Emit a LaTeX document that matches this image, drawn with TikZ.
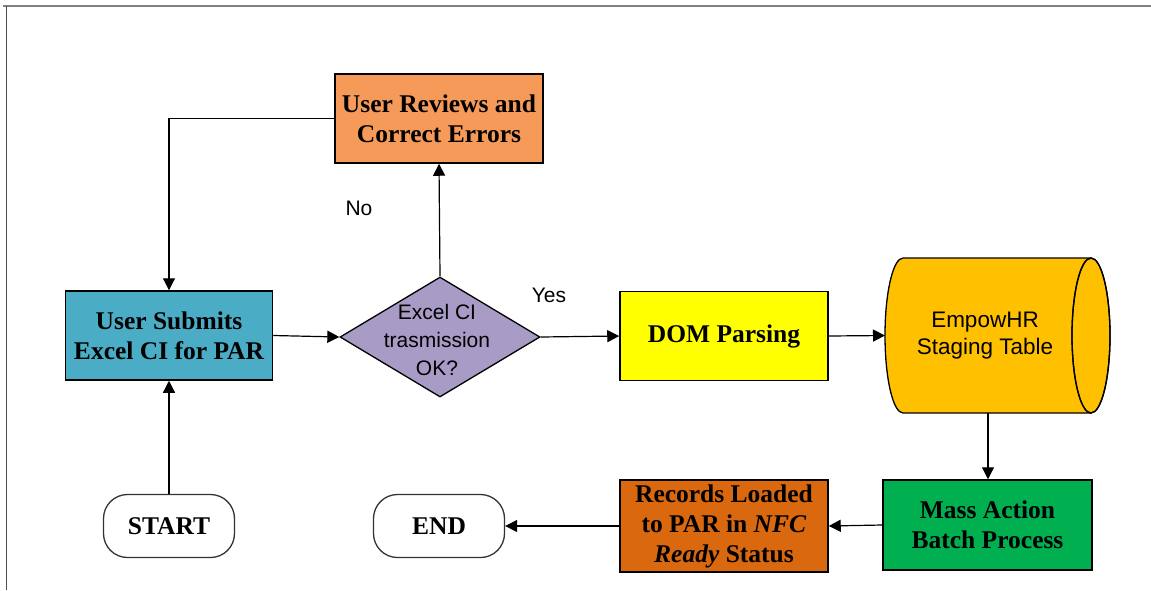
\documentclass[tikz,border=0pt]{standalone}
\usepackage{fontspec}
\setmainfont{Liberation Serif}
\newfontfamily\arialf{Liberation Sans}
\usetikzlibrary{shapes.geometric,arrows.meta}
\definecolor{cSubmit}{RGB}{75,172,198}
\definecolor{cDecision}{RGB}{168,156,199}
\definecolor{cReview}{RGB}{246,154,90}
\definecolor{cDom}{RGB}{255,255,0}
\definecolor{cCyl}{RGB}{255,192,0}
\definecolor{cMass}{RGB}{0,176,80}
\definecolor{cRecords}{RGB}{217,104,14}
\definecolor{cFrame}{RGB}{128,128,128}
\begin{document}
\begin{tikzpicture}[x=1pt,y=-1pt,
  box/.style={draw=black,line width=1.5pt,minimum width=207pt,minimum height=89pt,inner sep=0pt,align=center,font=\fontsize{25.5}{30}\selectfont\bfseries},
  term/.style={draw=black!80,line width=1.3pt,rounded corners=24pt,minimum width=131pt,minimum height=63pt,inner sep=0pt,align=center,font=\fontsize{25.5}{30}\selectfont\bfseries,fill=white},
  decision/.style={diamond,draw=black,line width=1.3pt,fill=cDecision,minimum width=200pt,minimum height=120pt,inner sep=0pt},
  sanstext/.style={align=center,inner sep=0pt,font=\arialf\fontsize{21}{28}\selectfont},
  cyltext/.style={align=center,inner sep=0pt,font=\arialf\fontsize{22.5}{27}\selectfont},
  conn/.style={line width=1.2pt,draw=black,-{Triangle[length=12pt,width=12pt]}}]
\useasboundingbox (0,0) rectangle (1151,590);
\fill[white] (0,0) rectangle (1151,590);
% frame
\draw[cFrame,line width=2pt] (3,6) -- (1151,6);
\draw[black!70,line width=1pt] (6,6) -- (6,590);

% nodes
\node[box,fill=cSubmit] (submit) at (169,335.5) {User Submits\\Excel CI for PAR};
\node[decision] (dec) at (440,337) {};
\node[sanstext] (dectext) at (437,340) {Excel CI\\trasmission\\OK?};
\node[box,fill=cReview,minimum width=208pt] (review) at (439,118.5) {User Reviews and\\Correct Errors};
\node[box,fill=cDom,minimum width=208pt] (dom) at (724,336) {DOM Parsing};
\node[box,fill=cMass,minimum width=209pt,minimum height=90pt] (mass) at (987.5,525) {Mass Action\\Batch Process};
\node[box,fill=cRecords,minimum width=208pt,minimum height=92pt] (records) at (724,526) {Records Loaded\\to PAR in \textit{NFC}\\\textit{Ready} Status};
\node[term] (start) at (169,526) {START};
\node[term] (end) at (439,526) {END};

% cylinder
\filldraw[fill=cCyl,draw=black,line width=1.3pt] (903,258) -- (1091,258) -- (1091,413) -- (903,413)
  arc[start angle=270,end angle=90,x radius=18pt,y radius=77.5pt] -- cycle;
\filldraw[fill=cCyl,draw=black,line width=1.3pt] (1091,335.5) ellipse[x radius=19pt,y radius=77.5pt];
\draw[cCyl,line width=2pt] (1090,259.5) -- (1090,411.5);
\draw[black,line width=1.3pt] (1091,335.5) ellipse[x radius=19pt,y radius=77.5pt];
\node[cyltext] (cyl) at (985,336) {EmpowHR\\Staging Table};
\coordinate (cylW) at (885,335.5);
\coordinate (cylS) at (988,413);

% labels
\node[sanstext] (no) at (359,208) {No};
\node[sanstext] (yes) at (549,295) {Yes};

% connectors
\draw[conn] (start.north) -- (submit.south);
\draw[conn] (submit.east) -- (dec.west);
\draw[conn] (dec.north) -- (review.south);
\draw[conn] (review.west) -| (submit.north);
\draw[conn] (dec.east) -- (dom.west);
\draw[conn] (dom.east) -- (cylW);
\draw[conn] (cylS) -- (cylS |- mass.north);
\draw[conn] (mass.west) -- (records.east);
\draw[conn] (records.west) -- (end.east);
\end{tikzpicture}
\end{document}
